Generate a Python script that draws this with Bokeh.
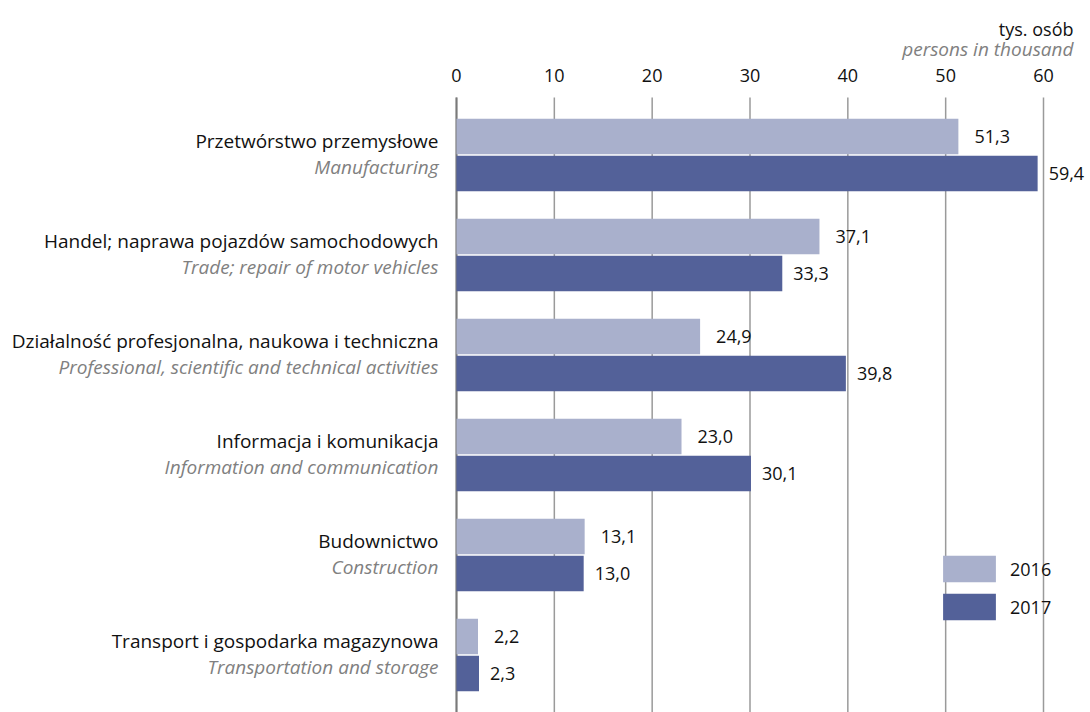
from bokeh.plotting import figure
from bokeh.models import (ColumnDataSource, Range1d, Label,
                          Legend, LegendItem)
from bokeh.core.properties import value
from bokeh.embed import file_html
from bokeh.resources import INLINE

categories_pl = [
    "Przetwórstwo przemysłowe",
    "Handel; naprawa pojazdów samochodowych",
    "Działalność profesjonalna, naukowa i techniczna",
    "Informacja i komunikacja",
    "Budownictwo",
    "Transport i gospodarka magazynowa",
]
categories_en = [
    "Manufacturing",
    "Trade; repair of motor vehicles",
    "Professional, scientific and technical activities",
    "Information and communication",
    "Construction",
    "Transportation and storage",
]
values_2016 = [51.3, 37.1, 24.9, 23.0, 13.1, 2.2]
values_2017 = [59.4, 33.3, 39.8, 30.1, 13.0, 2.3]
ticks = [0, 10, 20, 30, 40, 50, 60]

FONT = value("Open Sans")
LIGHT = "#a9b0cc"
DARK = "#536199"
BLACK = "#111111"
GREY = "#808080"
FS = "19px"

n = len(categories_pl)
idx = list(range(n))
fmt = lambda v: f"{v:.1f}".replace(".", ",")

src16 = ColumnDataSource(dict(y=[i - 0.185 for i in idx], v=values_2016,
                              lab=[fmt(v) for v in values_2016]))
src17 = ColumnDataSource(dict(y=[i + 0.185 for i in idx], v=values_2017,
                              lab=[fmt(v) for v in values_2017]))
srccat = ColumnDataSource(dict(x=[0] * n, ypl=[i - 0.145 for i in idx],
                               yen=[i + 0.12 for i in idx],
                               pl=categories_pl, en=categories_en))
srctick = ColumnDataSource(dict(x=ticks, lab=[str(t) for t in ticks],
                                y=[-0.795] * len(ticks),
                                y0=[-0.575] * len(ticks),
                                y1=[5.6] * len(ticks)))

PX = 587.0 / 60  # pixels per unit
p = figure(width=1090, height=712, output_backend="svg", toolbar_location=None,
           x_range=Range1d(-456 / PX, (1090 - 456) / PX),
           y_range=Range1d(5.575, -1.545),
           min_border_left=0, min_border_right=0,
           min_border_top=0, min_border_bottom=0)
p.outline_line_color = None
p.xaxis.visible = False
p.yaxis.visible = False
p.grid.visible = False

# grid lines (0 line darker)
p.segment(x0="x", x1="x", y0="y0", y1="y1", source=srctick,
          line_color="#9a9a9a", line_width=1.5)
p.segment(x0=[0], x1=[0], y0=[-0.575], y1=[5.6], line_color="#7a7a7a",
          line_width=2)

r16 = p.hbar(y="y", right="v", left=0, height=0.355, source=src16,
             fill_color=LIGHT, line_color=None)
r17 = p.hbar(y="y", right="v", left=0, height=0.355, source=src17,
             fill_color=DARK, line_color=None)

p.text(x="x", y="y", text="lab", source=srctick, text_align="center",
       text_baseline="middle", text_font=FONT, text_font_size="18px",
       text_color=BLACK)

for src, off in ((src16, 16), (src17, 11)):
    p.text(x="v", y="y", text="lab", source=src, x_offset=off,
           text_baseline="middle", text_font=FONT, text_font_size="18px",
           text_color=BLACK)

p.text(x="x", y="ypl", text="pl", source=srccat, x_offset=-18,
       text_align="right", text_baseline="middle", text_font=FONT,
       text_font_size=FS, text_color=BLACK)
p.text(x="x", y="yen", text="en", source=srccat, x_offset=-18,
       text_align="right", text_baseline="middle", text_font=FONT,
       text_font_size=FS, text_font_style="italic", text_color=GREY)

p.add_layout(Label(x=(1073 - 456) / PX, y=-1.265, text="tys. osób",
                   text_align="right", text_baseline="middle",
                   text_font="Open Sans", text_font_size="18px",
                   text_color=BLACK))
p.add_layout(Label(x=(1073 - 456) / PX, y=-1.065, text="persons in thousand",
                   text_align="right", text_baseline="middle",
                   text_font="Open Sans", text_font_size=FS,
                   text_font_style="italic", text_color=GREY))

legend = Legend(items=[LegendItem(label="2016", renderers=[r16]),
                       LegendItem(label="2017", renderers=[r17])],
                location=(936, 89), orientation="vertical",
                glyph_width=66, glyph_height=33, spacing=5, padding=0,
                margin=0, label_standoff=8, border_line_color=None,
                background_fill_alpha=0, label_text_font="Open Sans",
                label_text_font_size="18px", label_text_color=BLACK)
p.add_layout(legend)

open("out.html", "w").write(file_html(p, INLINE))
